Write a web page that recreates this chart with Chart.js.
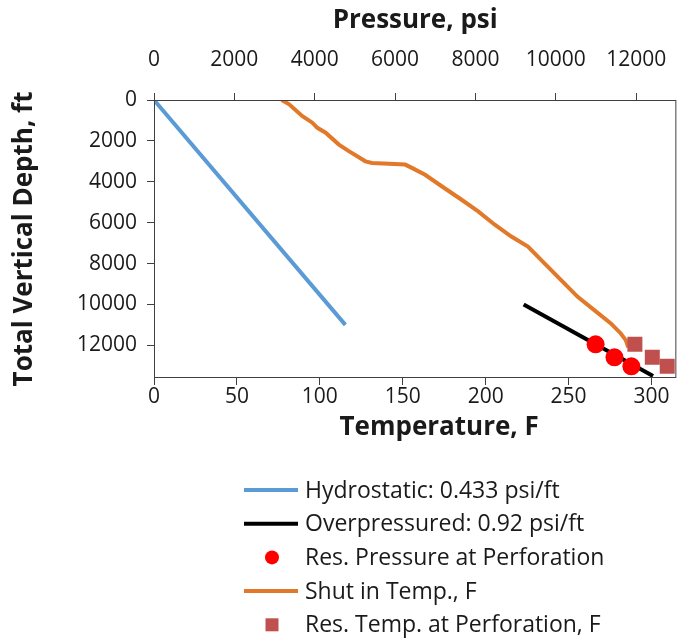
<!DOCTYPE html>
<html>
<head>
<meta charset="utf-8">
<script src="https://cdn.jsdelivr.net/npm/chart.js@4.4.1/dist/chart.umd.min.js"></script>
<style>
  html, body { margin: 0; padding: 0; background: #fff; }
</style>
</head>
<body>
<canvas id="wellChart" width="687" height="643"></canvas>
<script>
// pressure series (top axis, psi) vs depth (ft)
const hydroPressure = [0, 4763];
const hydroDepth = [0, 11000];
const overPressure = [9200, 12420];
const overDepth = [10000, 13500];
const resPressure = [10990, 11460, 11880];
const resPressureDepth = [11950, 12590, 13030];

// temperature series (bottom axis, F) vs depth (ft)
const shutInTemp = [77, 81.5, 89.5, 95.5, 98.5, 103.5, 111.5, 117.5, 127.5, 131.5, 151.5, 155.5, 163.5,
  173.5, 185.5, 195.5, 205.5, 215.5, 225.5, 235.5, 245.5, 255.5, 265.5, 275.5, 281.5, 284.5, 286];
const shutInDepth = [0, 210, 790, 1110, 1360, 1600, 2180, 2500, 3000, 3080, 3160, 3320, 3660,
  4220, 4880, 5450, 6100, 6680, 7170, 7990, 8810, 9630, 10280, 10930, 11420, 11750, 12100];
const resTemp = [290, 300.5, 309.5];
const resTempDepth = [11950, 12590, 13030];

// axis ranges and tick labels
const pressureRange = [0, 13000];
const pressureTicks = [0, 2000, 4000, 6000, 8000, 10000, 12000];
const tempRange = [0, 315];
const tempTicks = [0, 50, 100, 150, 200, 250, 300];
const depthRange = [0, 13600];
const depthTicks = [0, 2000, 4000, 6000, 8000, 10000, 12000];

const tempTitle = "Temperature, F";

const toPoints = (xs, ys) => xs.map((x, i) => ({ x: x, y: ys[i] }));
const setTicks = (values) => (scale) => {
  scale.ticks = values.map((v) => ({ value: v }));
};

const textColor = "#1a1a1a";
const axisColor = "#404040";
const tickFont = { family: "'Open Sans'", size: 21 };
const titleFont = { family: "'Open Sans'", size: 26, weight: "bold" };

// box around the plot area, plus the bottom axis title (sits a bit right of centre)
const framePlugin = {
  id: "frame",
  afterDatasetsDraw(chart) {
    const { ctx, chartArea: a } = chart;
    ctx.save();
    ctx.strokeStyle = axisColor;
    ctx.lineWidth = 1;
    ctx.strokeRect(a.left + 0.5, a.top + 0.5, a.right - a.left - 1, a.bottom - a.top - 1);
    ctx.font = "bold 26px 'Open Sans'";
    ctx.fillStyle = textColor;
    ctx.textAlign = "center";
    ctx.textBaseline = "middle";
    ctx.fillText(tempTitle, (a.left + a.right) / 2 + 24, a.bottom + 50);
    ctx.restore();
  },
};

// legend stacked one item per row under the chart
const stackedLegend = {
  id: "stackedLegend",
  afterDraw(chart) {
    const ctx = chart.ctx;
    ctx.save();
    ctx.font = "23px 'Open Sans'";
    ctx.textBaseline = "middle";
    chart.data.datasets.forEach((ds, i) => {
      const y = 490 + i * 33.7;
      if (ds.showLine) {
        ctx.strokeStyle = ds.borderColor;
        ctx.lineWidth = 4;
        ctx.beginPath();
        ctx.moveTo(244, y);
        ctx.lineTo(298, y);
        ctx.stroke();
      } else if (ds.pointStyle === "rect") {
        ctx.fillStyle = ds.backgroundColor;
        ctx.fillRect(265.5, y - 6.5, 13, 13);
      } else {
        ctx.fillStyle = ds.backgroundColor;
        ctx.beginPath();
        ctx.arc(272, y, 7, 0, Math.PI * 2);
        ctx.fill();
      }
      ctx.fillStyle = textColor;
      ctx.fillText(ds.label, 305, y + 1);
    });
    ctx.restore();
  },
};

const axisGrid = {
  drawOnChartArea: false,
  drawTicks: true,
  tickLength: 7,
  color: axisColor,
};

new Chart(document.getElementById("wellChart"), {
  type: "scatter",
  data: {
    datasets: [
      {
        label: "Hydrostatic: 0.433 psi/ft",
        data: toPoints(hydroPressure, hydroDepth),
        xAxisID: "xp",
        showLine: true,
        borderColor: "#5b9bd5",
        borderWidth: 4,
        pointRadius: 0,
        order: 5,
      },
      {
        label: "Overpressured: 0.92 psi/ft",
        data: toPoints(overPressure, overDepth),
        xAxisID: "xp",
        showLine: true,
        borderColor: "#000000",
        borderWidth: 4,
        pointRadius: 0,
        order: 4,
      },
      {
        label: "Res. Pressure at Perforation",
        data: toPoints(resPressure, resPressureDepth),
        xAxisID: "xp",
        showLine: false,
        pointStyle: "circle",
        backgroundColor: "#ff0000",
        borderWidth: 0,
        pointRadius: 9,
        order: 3,
      },
      {
        label: "Shut in Temp., F",
        data: toPoints(shutInTemp, shutInDepth),
        xAxisID: "xt",
        showLine: true,
        borderColor: "#e2792a",
        borderWidth: 4,
        pointRadius: 0,
        order: 2,
      },
      {
        label: "Res. Temp. at Perforation, F",
        data: toPoints(resTemp, resTempDepth),
        xAxisID: "xt",
        showLine: false,
        pointStyle: "rect",
        backgroundColor: "#c0504d",
        borderWidth: 0,
        pointRadius: 10.6,
        order: 1,
      },
    ],
  },
  options: {
    responsive: false,
    animation: false,
    layout: { padding: { left: 0, right: 7, top: 0, bottom: 193 } },
    plugins: {
      legend: { display: false },
      tooltip: { enabled: false },
    },
    scales: {
      xp: {
        type: "linear",
        position: "top",
        min: pressureRange[0],
        max: pressureRange[1],
        afterBuildTicks: setTicks(pressureTicks),
        afterFit: (scale) => { scale.height = 100; },
        grid: axisGrid,
        border: { display: false },
        ticks: {
          autoSkip: false,
          maxRotation: 0,
          padding: 20,
          color: textColor,
          font: tickFont,
          callback: (v) => String(v),
        },
        title: {
          display: true,
          text: "Pressure, psi",
          color: textColor,
          font: titleFont,
          padding: { top: 5, bottom: 0 },
        },
      },
      xt: {
        type: "linear",
        position: "bottom",
        min: tempRange[0],
        max: tempRange[1],
        afterBuildTicks: setTicks(tempTicks),
        afterFit: (scale) => { scale.height = 72; },
        grid: axisGrid,
        border: { display: false },
        ticks: {
          autoSkip: false,
          maxRotation: 0,
          padding: -1,
          color: textColor,
          font: tickFont,
          callback: (v) => String(v),
        },
        title: { display: false },
      },
      y: {
        type: "linear",
        position: "left",
        reverse: true,
        min: depthRange[0],
        max: depthRange[1],
        afterBuildTicks: setTicks(depthTicks),
        afterFit: (scale) => { scale.width = 154; },
        grid: axisGrid,
        border: { display: false },
        ticks: {
          autoSkip: false,
          padding: 10,
          color: textColor,
          font: tickFont,
          callback: (v) => String(v),
        },
        title: {
          display: true,
          text: "Total Vertical Depth, ft",
          color: textColor,
          font: titleFont,
          padding: { top: 9, bottom: 0 },
        },
      },
    },
  },
  plugins: [framePlugin, stackedLegend],
});
</script>
</body>
</html>
